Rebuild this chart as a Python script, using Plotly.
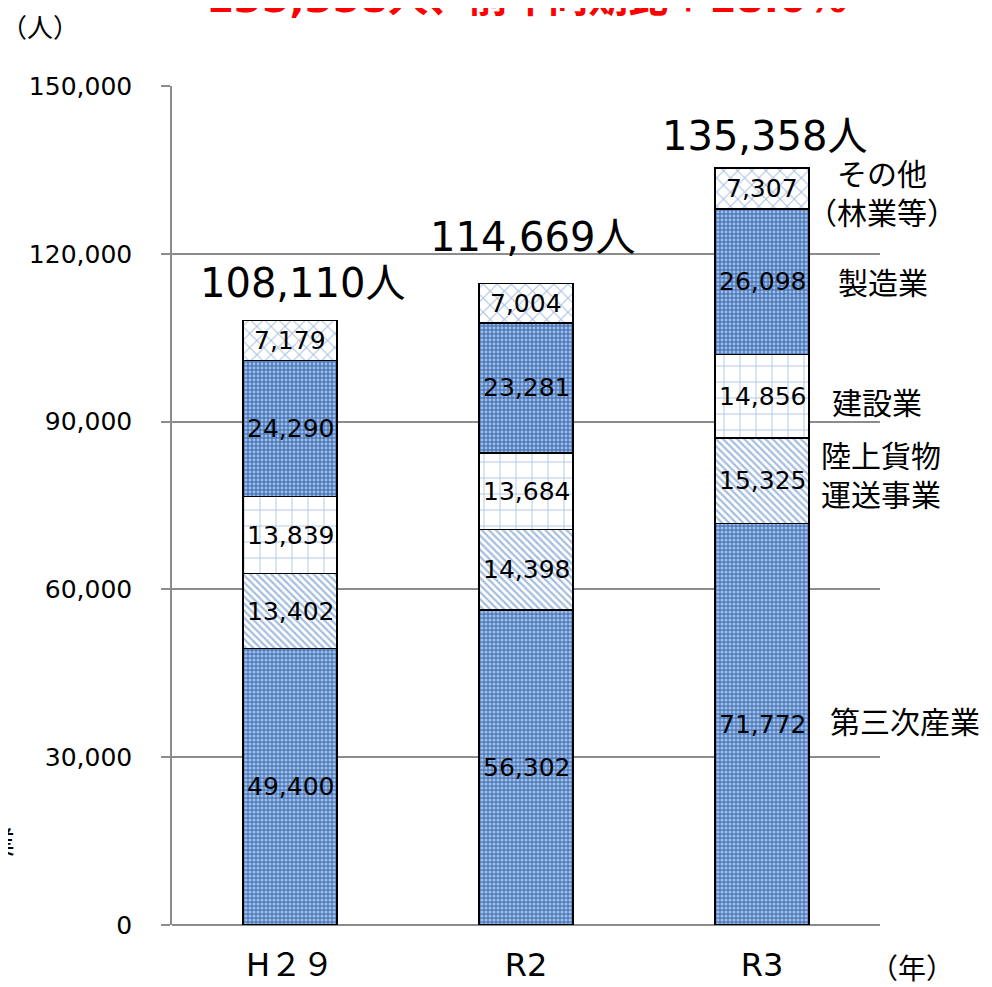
import plotly.graph_objects as go

years = ["H２９", "R2", "R3"]
series_names = ["第三次産業", "陸上貨物運送事業", "建設業", "製造業", "その他（林業等）"]
daisan = [49400, 56302, 71772]
rikujo = [13402, 14398, 15325]
kensetsu = [13839, 13684, 14856]
seizo = [24290, 23281, 26098]
sonota = [7179, 7004, 7307]
totals = [108110, 114669, 135358]
right_labels = ["第三次産業", "陸上貨物<br>運送事業", "建設業", "製造業", "その他<br>（林業等）"]
y_ticks = [0, 30000, 60000, 90000, 120000, 150000]
y_tick_text = ["0", "30,000", "60,000", "90,000", "120,000", "150,000"]

FONT = "DejaVu Sans, Noto Sans CJK JP"
CJK = "Noto Sans CJK JP"
BLUE = "#4a7bc0"
series = [daisan, rikujo, kensetsu, seizo, sonota]
patterns = [
    dict(shape=".", bgcolor=BLUE, fgcolor="white", size=4, solidity=0.5, fillmode="overlay"),
    dict(shape="\\", bgcolor="white", fgcolor=BLUE, size=5, solidity=0.45, fillmode="overlay"),
    dict(shape="+", bgcolor="white", fgcolor=BLUE, size=16, solidity=0.1, fillmode="overlay"),
    dict(shape=".", bgcolor=BLUE, fgcolor="white", size=4, solidity=0.42, fillmode="overlay"),
    dict(shape="x", bgcolor="white", fgcolor=BLUE, size=10, solidity=0.18, fillmode="overlay"),
]
# style: per-bar total label offsets (px)
total_xshift = [12, 6, 2]
total_yshift = [12, 22, 7]
# style: right label offsets (px) relative to R3 segment centres
right_xshift = [66, 119, 115, 121, 120]
right_yshift = [4, 7, -5, 1, -3]

fig = go.Figure()
for name, vals, pat in zip(series_names, series, patterns):
    fig.add_trace(go.Bar(
        x=years, y=vals, name=name,
        marker=dict(color="white", pattern=pat, line=dict(color="black", width=1.5)),
        hoverinfo="skip",
    ))

annotations = []
for i, yr in enumerate(years):
    cum = 0
    for vals in series:
        v = vals[i]
        annotations.append(dict(x=yr, y=cum + v / 2, xref="x", yref="y", text=f"{v:,}",
                                showarrow=False, font=dict(family=FONT, size=25, color="black")))
        cum += v
    annotations.append(dict(x=yr, y=totals[i], xref="x", yref="y", text=f"{totals[i]:,}人",
                            showarrow=False, yanchor="bottom",
                            yshift=total_yshift[i], xshift=total_xshift[i],
                            font=dict(family=FONT, size=40, color="black")))

cum = 0
for k, vals in enumerate(series):
    v = vals[2]
    annotations.append(dict(x=years[2], y=cum + v / 2, xref="x", yref="y", text=right_labels[k],
                            showarrow=False, xanchor="left" if k == 0 else "center",
                            xshift=right_xshift[k], yshift=right_yshift[k],
                            font=dict(family=CJK, size=30, color="black")))
    cum += v

annotations.append(dict(x=0, y=1, xref="paper", yref="paper", text="（人）", showarrow=False,
                        xanchor="center", yanchor="middle", xshift=-132, yshift=61,
                        font=dict(family=CJK, size=26, color="black")))
annotations.append(dict(x=1, y=0, xref="paper", yref="paper", text="（年）", showarrow=False,
                        xanchor="center", yanchor="middle", xshift=32, yshift=-42,
                        font=dict(family=CJK, size=28, color="black")))
annotations.append(dict(x=0.5, y=1, xref="paper", yref="paper",
                        text="<b>135,358人、前年同期比＋18.0%</b>", showarrow=False,
                        xanchor="center", yanchor="bottom", xshift=0, yshift=63,
                        font=dict(family=FONT, size=40, color="#ff0000")))
annotations.append(dict(x=0, y=15200, xref="paper", yref="y", text="業", showarrow=False,
                        xanchor="center", xshift=-172,
                        font=dict(family=CJK, size=30, color="black")))

fig.update_layout(
    barmode="stack",
    bargap=0.6,
    width=984, height=979,
    margin=dict(l=164, r=112, t=78, b=62, autoexpand=False),
    paper_bgcolor="white", plot_bgcolor="white",
    showlegend=False,
    font=dict(family=FONT, color="black"),
    annotations=annotations,
)
fig.update_xaxes(
    range=[-0.5, 2.5], autorange=False, automargin=False,
    showline=False, showgrid=False, ticks="",
    ticklabelstandoff=18,
    tickfont=dict(family=FONT, size=32, color="black"),
)
fig.update_yaxes(
    range=[0, 150000], autorange=False, automargin=False,
    tickvals=y_ticks, ticktext=y_tick_text,
    showgrid=True, gridcolor="#8c8c8c", gridwidth=1.5,
    showline=True, linecolor="#8c8c8c", linewidth=1.5,
    ticks="outside", ticklen=9, tickcolor="#8c8c8c", tickwidth=1.5,
    zeroline=True, zerolinecolor="#8c8c8c", zerolinewidth=1.5,
    ticklabelstandoff=24,
    tickfont=dict(family=FONT, size=25, color="black"),
)

fig.write_html("out.html")
